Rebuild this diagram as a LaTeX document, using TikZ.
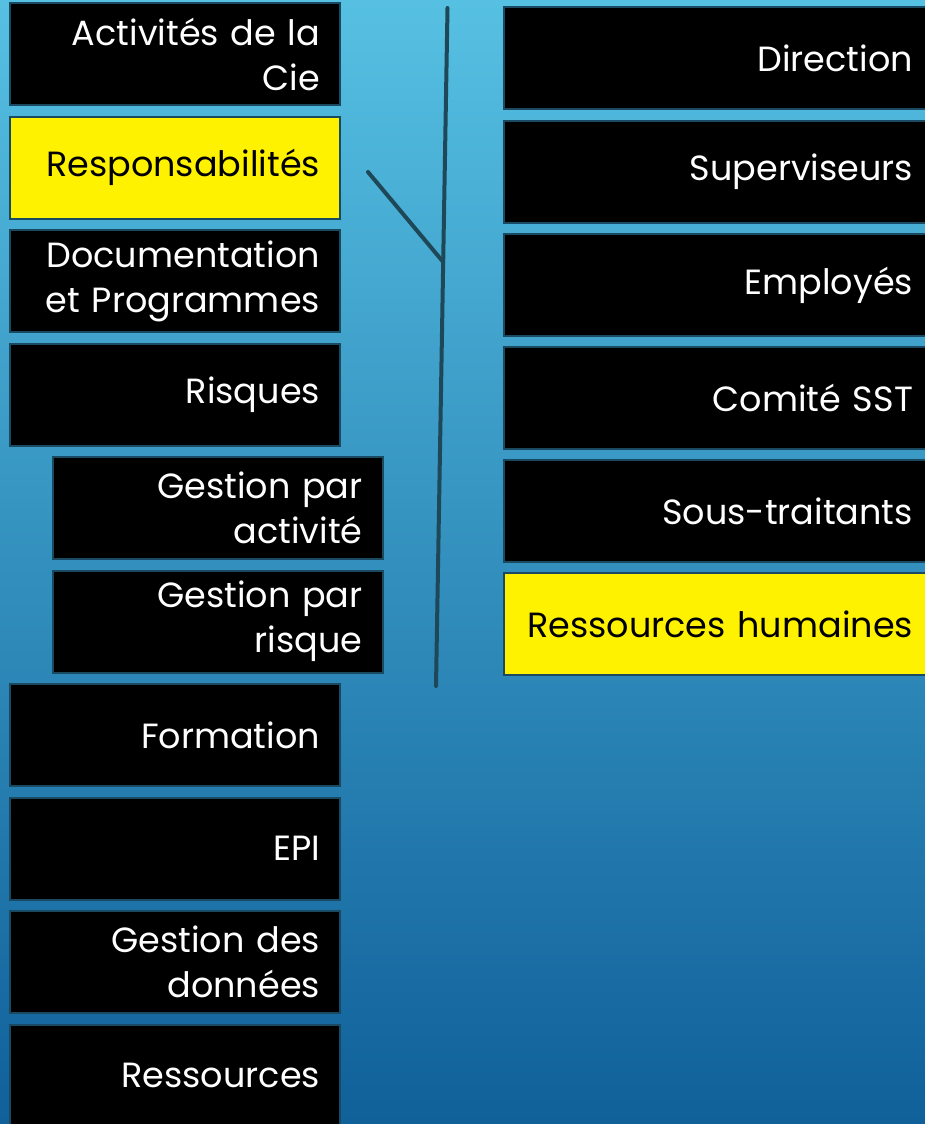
\documentclass[tikz,border=0pt]{standalone}
\usepackage{fontspec}
\setmainfont{Poppins}
\usepackage{tikz}
\usetikzlibrary{positioning}

\definecolor{bgtop}{HTML}{56C0E2}
\definecolor{bgmid}{HTML}{2A8AB8}
\definecolor{bgbot}{HTML}{10609A}
\definecolor{boxline}{HTML}{1A4A62}
\definecolor{stem}{HTML}{1E4858}

\tikzset{
  box/.style={draw=boxline, line width=2pt, fill=black, text=white,
    minimum height=102pt, inner xsep=20pt, align=right,
    font=\fontsize{35}{45}\selectfont},
  leftbox/.style={box, text width=290pt},
  rightbox/.style={box, text width=389pt},
  pick/.style={fill=yellow, text=black},
  stemline/.style={stem, line width=4pt, line cap=round}
}

\begin{document}
\begin{tikzpicture}[x=1pt,y=-1pt]
% BACKGROUND
  \useasboundingbox (0,0) rectangle (925,1124);
  \clip (0,0) rectangle (925,1124);
  \shade[top color=bgtop, middle color=bgmid, bottom color=bgbot] (0,0) rectangle (925,1124);

% Left column
  \node[leftbox] (act) at (175, 54) {Activités de la\\Cie};
  \node[leftbox, pick] (resp) at (175, 167.5) {Responsabilités};
  \node[leftbox] (doc) at (175, 281) {Documentation\\et Programmes};
  \node[leftbox] (risq) at (175, 394.5) {Risques};
  \node[leftbox] (gact) at (217.5, 508) {Gestion par\\activité};
  \node[leftbox] (grisq) at (217.5, 621.5) {Gestion par\\risque};
  \node[leftbox] (form) at (175, 735) {Formation};
  \node[leftbox] (epi) at (175, 848.5) {EPI};
  \node[leftbox] (gdon) at (175, 962) {Gestion des\\données};
  \node[leftbox] (ress) at (175, 1075.5) {Ressources};

% Right column
  \node[rightbox] (dir) at (718.5, 58) {Direction};
  \node[rightbox] (sup) at (718.5, 171.5) {Superviseurs};
  \node[rightbox] (emp) at (718.5, 285) {Employés};
  \node[rightbox] (comite) at (718.5, 398) {Comité SST};
  \node[rightbox] (sous) at (718.5, 511) {Sous-traitants};
  \node[rightbox, pick] (rh) at (718.5, 624) {Ressources humaines};

% Bracket
  \coordinate (stemtop) at (447.5, 8);
  \coordinate (stembot) at (436, 686);
  \coordinate (armtip) at (368, 172);
  \coordinate (armjoin) at (443.2, 262);
  \draw[stemline] (stemtop) -- (stembot);
  \draw[stemline] (armtip) -- (armjoin);
\end{tikzpicture}
\end{document}
